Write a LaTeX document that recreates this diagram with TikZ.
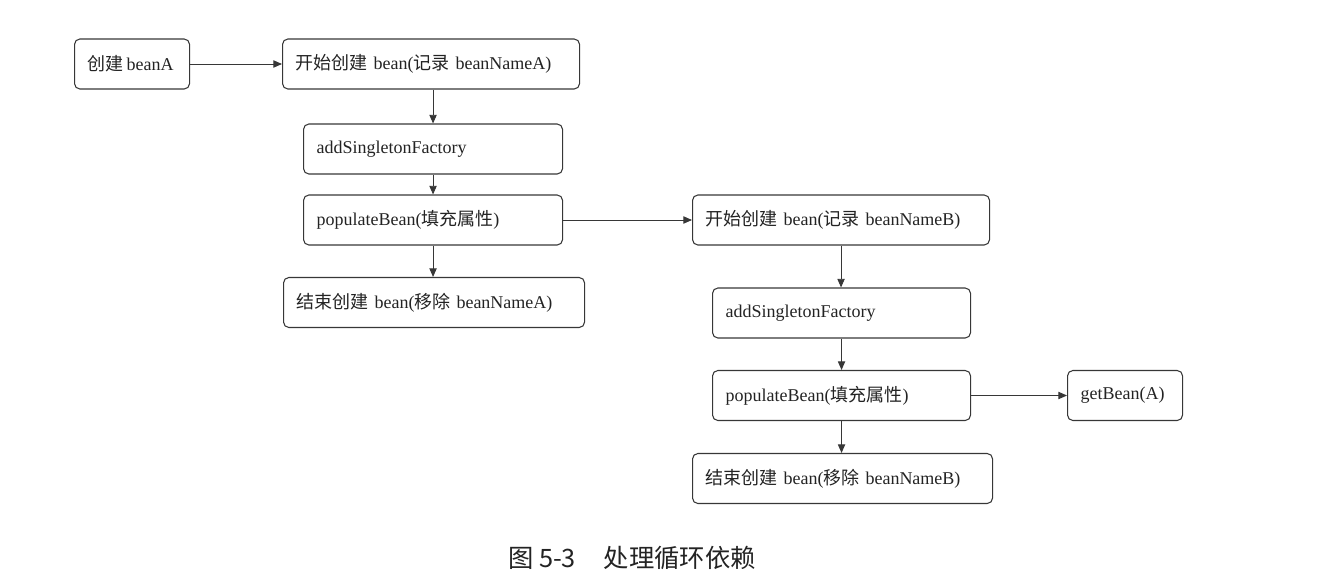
\documentclass[tikz,border=0pt]{standalone}
\usepackage{fontspec}
\setmainfont{Liberation Serif}
\newfontfamily\cjk{Noto Sans CJK SC}
\usepackage{tikz}
\usetikzlibrary{arrows.meta,positioning}
\usepackage{xcolor}
\definecolor{LineGray}{RGB}{55,55,55}
\definecolor{TextGray}{RGB}{35,35,35}

\begin{document}
\begin{tikzpicture}[x=0.75pt,y=-0.75pt,
  box/.style={draw=LineGray,line width=0.8pt,rounded corners=4pt,
              minimum height=37.5pt,inner xsep=9.75pt,inner ysep=0pt,
              text width=#1,align=left,anchor=west,text=TextGray,
              font=\fontsize{13.5}{16}\selectfont},
  arr/.style={-{Triangle[length=6.5pt,width=5.5pt]},draw=LineGray,line width=0.7pt},
]
\useasboundingbox (0,0) rectangle (1326,582);
% left chain: bean A
\node[box=66.75pt] (beanA) at (74,64) {{\cjk 创建}\,beanA};
\node[box=203.25pt] (startA) at (282,64) {{\cjk 开始创建} bean({\cjk 记录} beanNameA)};
\node[box=174.75pt] (addA) at (303,149) {addSingletonFactory};
\node[box=174.75pt] (popA) at (303,220) {populateBean({\cjk 填充属性})};
\node[box=206.25pt] (endA) at (283,302.5) {{\cjk 结束创建} bean({\cjk 移除} beanNameA)};
% right chain: bean B
\node[box=203.25pt] (startB) at (692,220) {{\cjk 开始创建} bean({\cjk 记录} beanNameB)};
\node[box=174pt] (addB) at (712,313) {addSingletonFactory};
\node[box=174pt] (popB) at (712,395.5) {populateBean({\cjk 填充属性})};
\node[box=66.75pt] (getA) at (1067,395.5) {getBean(A)};
\node[box=205.5pt] (endB) at (692,478.5) {{\cjk 结束创建} bean({\cjk 移除} beanNameB)};
\node[font=\cjk\fontsize{19}{22}\selectfont,text=TextGray] (caption) at (632,558)
  {图 5-3\hspace{1.1em}处理循环依赖};

\draw[arr] (beanA) -- (startA);
\draw[arr] (addA.north |- startA.south) -- (addA.north);
\draw[arr] (addA) -- (popA);
\draw[arr] (popA.south) -- (popA.south |- endA.north);
\draw[arr] (popA) -- (startB);
\draw[arr] (startB.south) -- (startB.south |- addB.north);
\draw[arr] (addB) -- (popB);
\draw[arr] (popB) -- (getA);
\draw[arr] (popB.south) -- (popB.south |- endB.north);
\end{tikzpicture}
\end{document}
